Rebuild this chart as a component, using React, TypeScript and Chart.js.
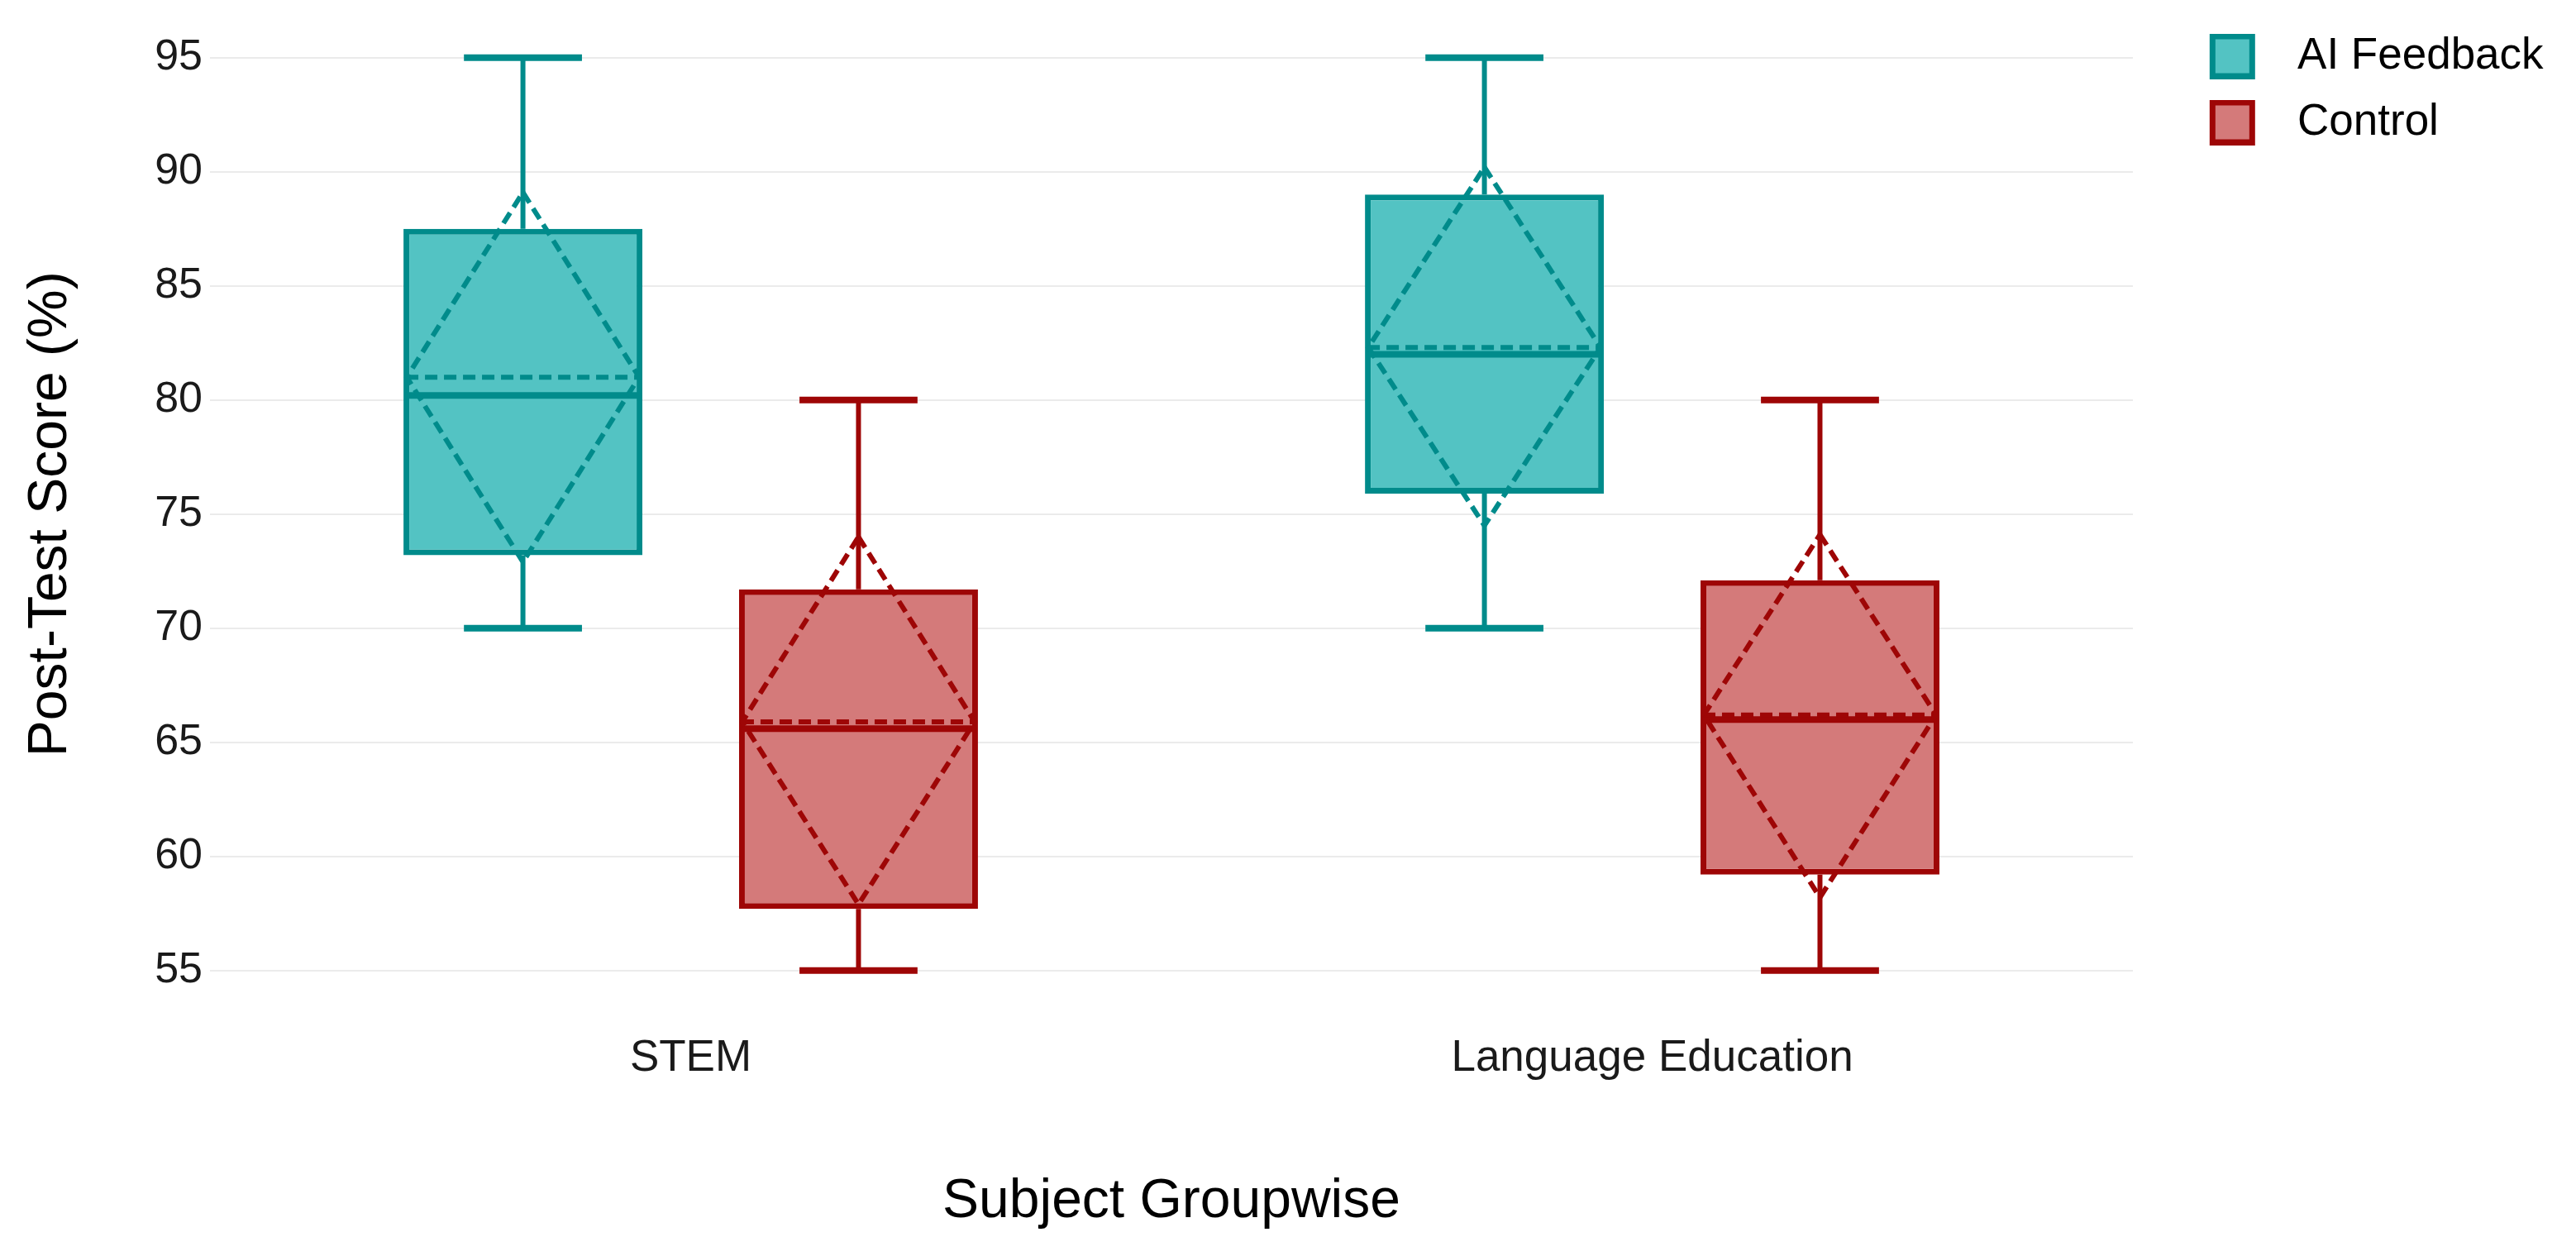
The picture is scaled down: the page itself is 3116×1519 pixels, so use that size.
import React, { useEffect, useRef } from 'react';
import { Chart, registerables } from 'chart.js';

Chart.register(...registerables);

// ---- data ----
const categories = ['STEM', 'Language Education'];
const seriesNames = ['AI Feedback', 'Control'];

const aiMin = [70, 70];
const aiQ1 = [73.2, 75.9];
const aiMedian = [80.2, 82.0];
const aiQ3 = [87.5, 89.0];
const aiMax = [95, 95];
const aiMean = [81.0, 82.3];
const aiMeanHigh = [89.1, 90.2];
const aiMeanLow = [72.9, 74.5];

const ctlMin = [55, 55];
const ctlQ1 = [57.7, 59.2];
const ctlMedian = [65.6, 66.0];
const ctlQ3 = [71.7, 72.1];
const ctlMax = [80, 80];
const ctlMean = [65.9, 66.2];
const ctlMeanHigh = [74.0, 74.1];
const ctlMeanLow = [57.9, 58.2];

const yTicks = [55, 60, 65, 70, 75, 80, 85, 90, 95];

// ---- styles ----
const FONT = "'Liberation Sans', Arial, sans-serif";
const aiFill = '#53c3c3';
const aiLine = '#008b8b';
const ctlFill = '#d47a7a';
const ctlLine = '#9e0606';

type Stats = { min: number[]; q1: number[]; med: number[]; q3: number[]; max: number[]; mean: number[]; hi: number[]; lo: number[] };
const boxStats: Stats[] = [
  { min: aiMin, q1: aiQ1, med: aiMedian, q3: aiQ3, max: aiMax, mean: aiMean, hi: aiMeanHigh, lo: aiMeanLow },
  { min: ctlMin, q1: ctlQ1, med: ctlMedian, q3: ctlQ3, max: ctlMax, mean: ctlMean, hi: ctlMeanHigh, lo: ctlMeanLow },
];
const lineColors = [aiLine, ctlLine];
const fillColors = [aiFill, ctlFill];

const boxPlugin = {
  id: 'boxExtras',
  afterDatasetsDraw(chart: any) {
    const ctx: CanvasRenderingContext2D = chart.ctx;
    const ys = chart.scales.y;
    const py = (v: number) => ys.getPixelForValue(v);
    chart.data.datasets.forEach((_ds: any, di: number) => {
      const meta = chart.getDatasetMeta(di);
      const st = boxStats[di];
      meta.data.forEach((bar: any, i: number) => {
        const { x, width } = bar.getProps(['x', 'width'], true);
        const left = x - width / 2;
        const right = x + width / 2;
        ctx.save();
        ctx.strokeStyle = lineColors[di];
        ctx.lineCap = 'butt';
        // whiskers
        ctx.lineWidth = 6;
        ctx.beginPath();
        ctx.moveTo(x, py(st.q3[i]));
        ctx.lineTo(x, py(st.max[i]));
        ctx.moveTo(x, py(st.q1[i]));
        ctx.lineTo(x, py(st.min[i]));
        ctx.stroke();
        // caps
        ctx.lineWidth = 8;
        ctx.beginPath();
        ctx.moveTo(x - width * 0.247, py(st.max[i]));
        ctx.lineTo(x + width * 0.247, py(st.max[i]));
        ctx.moveTo(x - width * 0.247, py(st.min[i]));
        ctx.lineTo(x + width * 0.247, py(st.min[i]));
        ctx.stroke();
        // median
        ctx.lineWidth = 8;
        ctx.beginPath();
        ctx.moveTo(left + 3, py(st.med[i]));
        ctx.lineTo(right - 3, py(st.med[i]));
        ctx.stroke();
        // mean line + diamond (dashed)
        ctx.setLineDash([15, 8]);
        ctx.lineWidth = 6;
        ctx.beginPath();
        ctx.moveTo(left + 3, py(st.mean[i]));
        ctx.lineTo(right - 3, py(st.mean[i]));
        ctx.stroke();
        ctx.beginPath();
        ctx.moveTo(x, py(st.hi[i]));
        ctx.lineTo(right - 4, py(st.mean[i]));
        ctx.lineTo(x, py(st.lo[i]));
        ctx.lineTo(left + 4, py(st.mean[i]));
        ctx.closePath();
        ctx.stroke();
        ctx.restore();
      });
    });
  },
};

function makeIcon(fill: string, line: string): HTMLCanvasElement {
  const c = document.createElement('canvas');
  c.width = 110;
  c.height = 55;
  const g = c.getContext('2d')!;
  const bx = 48;
  g.fillStyle = fill;
  g.fillRect(bx, 0, 55, 55);
  g.strokeStyle = line;
  g.lineWidth = 7;
  g.strokeRect(bx + 3.5, 3.5, 48, 48);
  return c;
}

export default function App() {
  const ref = useRef<HTMLCanvasElement | null>(null);

  useEffect(() => {
    document.body.style.margin = '0';
    const canvas = ref.current!;
    const icons = [makeIcon(aiFill, aiLine), makeIcon(ctlFill, ctlLine)];
    Chart.defaults.font.family = FONT;

    const datasets = seriesNames.map((name, di) => ({
      label: name,
      data: categories.map((_, i) => [boxStats[di].q1[i], boxStats[di].q3[i]]),
      backgroundColor: fillColors[di],
      borderColor: lineColors[di],
      borderWidth: 7,
      borderSkipped: false,
      categoryPercentage: 0.698,
      barPercentage: 0.712,
    }));

    const chart = new Chart(canvas, {
      type: 'bar',
      data: { labels: categories, datasets: datasets as any },
      plugins: [boxPlugin],
      options: {
        responsive: false,
        animation: false,
        devicePixelRatio: 1,
        layout: { padding: { left: 0, top: 14.5, right: 29.4, bottom: 25.4 } },
        plugins: {
          tooltip: { enabled: false },
          legend: {
            position: 'right',
            align: 'start',
            labels: {
              usePointStyle: true,
              pointStyleWidth: 145.5,
              padding: 27,
              color: '#000',
              font: { size: 53, family: FONT },
              generateLabels: (ch: any) => {
                const items = (Chart.defaults.plugins.legend.labels as any).generateLabels(ch);
                items.forEach((it: any, i: number) => {
                  it.pointStyle = icons[i];
                });
                return items;
              },
            },
          },
        },
        scales: {
          x: {
            type: 'category',
            offset: true,
            grid: { display: false },
            border: { display: false },
            ticks: { color: '#1a1a1a', font: { size: 53, family: FONT }, padding: 12 },
            title: {
              display: true,
              text: 'Subject Groupwise',
              color: '#000',
              font: { size: 66, family: FONT },
              padding: { top: 0, bottom: 0 },
            },
            afterFit: (s: any) => {
              s.height = 264.6;
              s.paddingLeft = 0;
              s.paddingRight = 0;
            },
          },
          y: {
            type: 'linear',
            min: 53,
            max: 97,
            afterBuildTicks: (s: any) => {
              s.ticks = yTicks.map((v) => ({ value: v }));
            },
            grid: { color: '#ebebeb', lineWidth: 2, drawTicks: false },
            border: { display: false },
            ticks: { color: '#1a1a1a', font: { size: 52, family: FONT }, padding: 9 },
            title: {
              display: true,
              text: 'Post-Test Score (%)',
              color: '#000',
              font: { size: 66, family: FONT },
              padding: { top: 22, bottom: 0 },
            },
            afterFit: (s: any) => {
              s.width = 254;
              s.paddingTop = 0;
              s.paddingBottom = 0;
            },
          },
        },
      } as any,
    });

    return () => chart.destroy();
  }, []);

  return (
    <div style={{ width: 3116, height: 1519, background: '#fff' }}>
      <canvas ref={ref} width={3116} height={1519} style={{ display: 'block', width: 3116, height: 1519 }} />
    </div>
  );
}
